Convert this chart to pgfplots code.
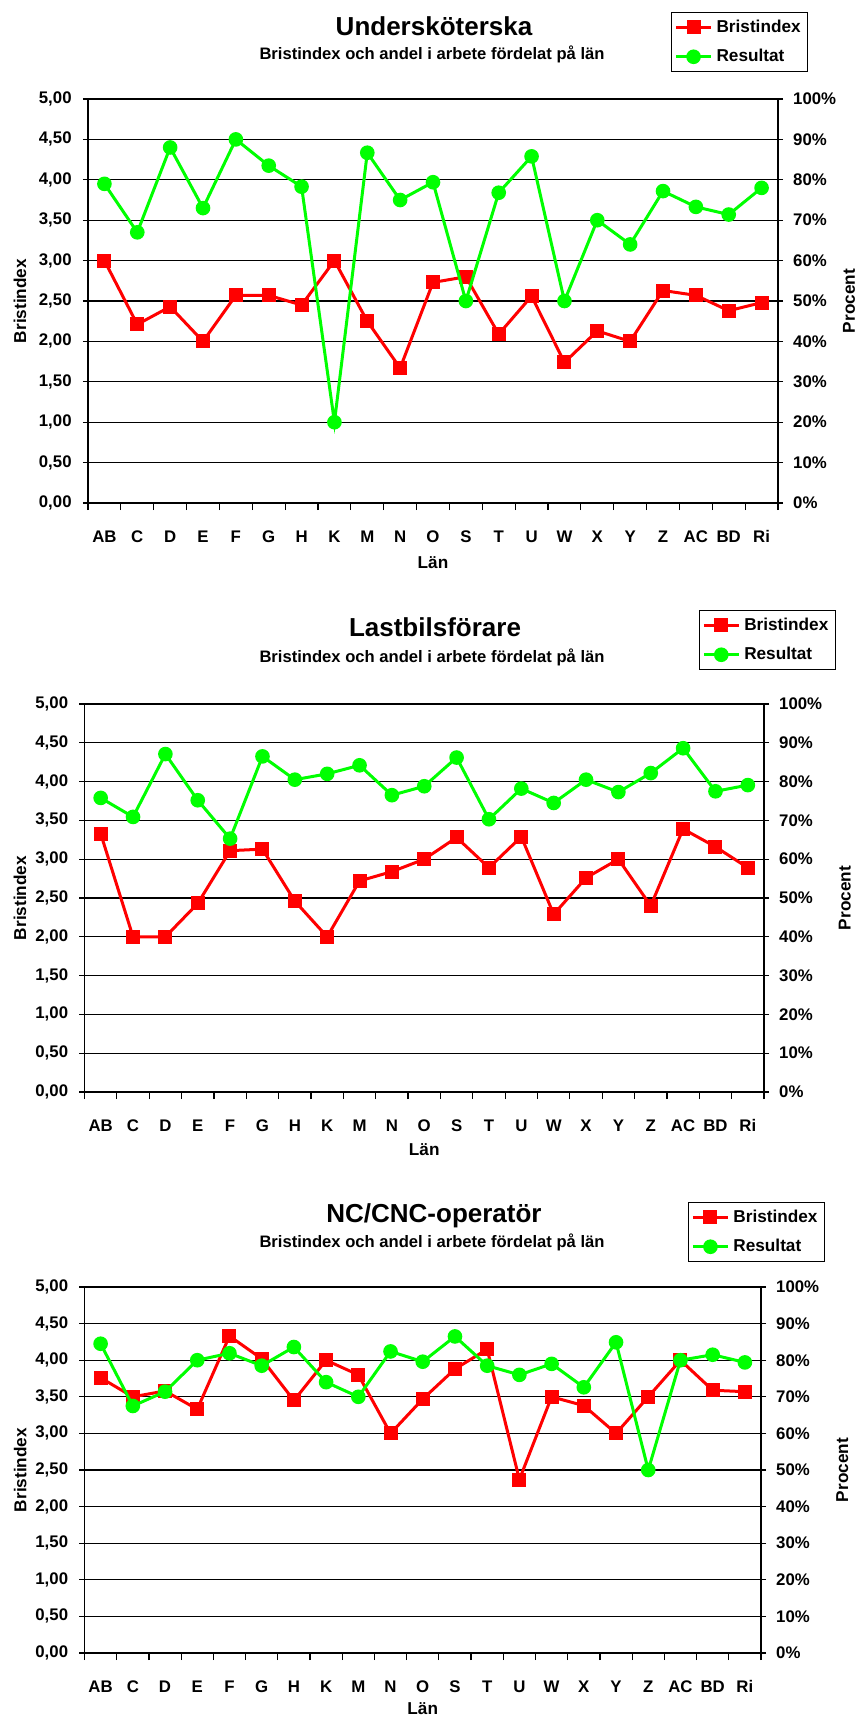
\documentclass[border=0pt]{standalone}
\usepackage{fontspec}
\setmainfont{Liberation Sans}
\usepackage{pgfplots}
\pgfplotsset{compat=1.18}
\usepackage{pgfplotstable}

\definecolor{bired}{RGB}{255,0,0}
\definecolor{resgreen}{RGB}{0,255,0}

\newcommand\titfont{\fontsize{13bp}{15bp}\selectfont\bfseries}
\newcommand\subfont{\fontsize{8.3bp}{10bp}\selectfont\bfseries}
\newcommand\labfont{\fontsize{8.6bp}{10bp}\selectfont\bfseries}
\newcommand\tickfont{\fontsize{8.4bp}{10bp}\selectfont\bfseries}

% idx: 0=AB ... 20=Ri ; bi = Bristindex, res = Resultat (%)
\pgfplotstableread{
idx bi res
0 3.00 79
1 2.21 67
2 2.43 88
3 2.00 73
4 2.57 90
5 2.57 83.5
6 2.45 78.3
7 3.00 20
8 2.25 86.7
9 1.67 75
10 2.73 79.4
11 2.80 50
12 2.09 76.8
13 2.56 85.8
14 1.74 50
15 2.13 70
16 2.00 64
17 2.63 77.2
18 2.57 73.3
19 2.38 71.4
20 2.48 78
}\underskoterska

\pgfplotstableread{
idx bi res
0 3.33 75.8
1 2.00 70.9
2 2.00 87.1
3 2.43 75.2
4 3.11 65.3
5 3.13 86.5
6 2.46 80.5
7 2.00 82
8 2.72 84.2
9 2.84 76.5
10 3.00 78.8
11 3.28 86.2
12 2.89 70.3
13 3.29 78.2
14 2.29 74.5
15 2.76 80.5
16 3.00 77.3
17 2.40 82.2
18 3.39 88.6
19 3.16 77.5
20 2.89 79.1
}\lastbil

\pgfplotstableread{
idx bi res
0 3.76 84.5
1 3.50 67.5
2 3.58 71.4
3 3.33 80
4 4.33 81.9
5 4.02 78.5
6 3.45 83.6
7 4.00 74
8 3.80 70
9 3.00 82.4
10 3.47 79.6
11 3.88 86.5
12 4.15 78.5
13 2.37 76
14 3.50 79
15 3.38 72.6
16 3.00 84.9
17 3.50 50
18 4.00 80
19 3.59 81.5
20 3.57 79.4
}\cncop

\pgfplotsset{
  lanaxis/.style={
    scale only axis, xmin=-0.5, xmax=20.5, ymin=0,
    tick align=outside, major tick length=2.6bp, minor tick length=3.5bp,
    every tick/.style={black, line width=0.6bp},
    axis line style={black, line width=0.6bp},
    tick label style={font=\tickfont},
    label style={font=\labfont},
    /pgf/number format/assume math mode=true,
  },
  leftaxis/.style={lanaxis,
    axis x line*=bottom, axis y line*=left,
    ymax=5, ytick={0,0.5,...,5},
    yticklabels={{0,00},{0,50},{1,00},{1,50},{2,00},{2,50},{3,00},{3,50},{4,00},{4,50},{5,00}},
    ymajorgrids, grid style={black, line width=0.6bp},
    xtick={0,...,20},
    xticklabels={AB,C,D,E,F,G,H,K,M,N,O,S,T,U,W,X,Y,Z,AC,BD,Ri},
    minor xtick={-0.5,0.5,...,20.5},
    xtick style={/pgfplots/major tick length=0pt},
    xticklabel style={anchor=base, yshift=-17bp},
    yticklabel style={anchor=east, inner sep=0pt, xshift=-5.4bp},
    ylabel={Bristindex}, xlabel={Län},
  },
  rightaxis/.style={lanaxis,
    axis x line=none, axis y line*=right, ymax=100,
    ytick={0,10,...,100},
    yticklabels={0\%,10\%,20\%,30\%,40\%,50\%,60\%,70\%,80\%,90\%,100\%},
    yticklabel style={anchor=west, inner sep=0pt, xshift=4.8bp},
    ylabel={Procent},
    legend style={anchor=north west, draw=black, line width=0.5bp, fill=white,
      inner xsep=1.5bp, inner ysep=1.5bp, row sep=3bp, font=\labfont,
      cells={anchor=west}},
    legend image code/.code={\draw[#1, mark repeat=2, mark phase=2]
      plot coordinates {(0bp,0bp) (8.75bp,0bp) (17.5bp,0bp)};},
  },
  bistyle/.style={bired, line width=1.5bp, mark=square*, mark size=2.75bp,
    mark options={solid, fill=bired, draw=bired}},
  resstyle/.style={resgreen, line width=1.5bp, mark=*, mark size=2.9bp,
    mark options={solid, fill=resgreen, draw=resgreen}},
}

\begin{document}
\begin{tikzpicture}
\path[use as bounding box] (0,0) rectangle (430.5bp,-857.5bp);

% ---------- Undersköterska ----------
\node[anchor=base, font=\titfont] at (217bp,-17.5bp) {Undersköterska};
\node[anchor=base, font=\subfont] at (216bp,-29.5bp) {Bristindex och andel i arbete fördelat på län};
\begin{axis}[leftaxis, at={(44bp,-251.5bp)}, anchor=south west,
  width=345bp, height=202bp,
  ylabel style={at={(axis description cs:-0.0986,0.5)}, anchor=center},
  xlabel style={at={(axis description cs:0.5,0)}, anchor=base, yshift=-32.5bp}]
  \addplot[bistyle] table[x=idx, y=bi] {\underskoterska};
\end{axis}
\begin{axis}[rightaxis, at={(44bp,-251.5bp)}, anchor=south west,
  width=345bp, height=202bp,
  ylabel style={at={(axis description cs:1.103,0.5)}, anchor=center},
  legend style={at={(axis description cs:0.845,1.215)}}]
  \addlegendimage{bistyle}\addlegendentry{Bristindex}
  \addplot[resstyle] table[x=idx, y=res] {\underskoterska};
  \addlegendentry{Resultat}
\end{axis}

% ---------- Lastbilsförare ----------
\node[anchor=base, font=\titfont] at (217.5bp,-318.3bp) {Lastbilsförare};
\node[anchor=base, font=\subfont] at (216bp,-331.3bp) {Bristindex och andel i arbete fördelat på län};
\begin{axis}[leftaxis, at={(42.25bp,-546bp)}, anchor=south west,
  width=339.75bp, height=194bp,
  ylabel style={at={(axis description cs:-0.095,0.5)}, anchor=center},
  xlabel style={at={(axis description cs:0.5,0)}, anchor=base, yshift=-31.5bp}]
  \addplot[bistyle] table[x=idx, y=bi] {\lastbil};
\end{axis}
\begin{axis}[rightaxis, at={(42.25bp,-546bp)}, anchor=south west,
  width=339.75bp, height=194bp,
  ylabel style={at={(axis description cs:1.119,0.5)}, anchor=center},
  legend style={at={(axis description cs:0.904,1.242)}}]
  \addlegendimage{bistyle}\addlegendentry{Bristindex}
  \addplot[resstyle] table[x=idx, y=res] {\lastbil};
  \addlegendentry{Resultat}
\end{axis}

% ---------- NC/CNC-operatör ----------
\node[anchor=base, font=\titfont] at (217bp,-611.3bp) {NC/CNC-operatör};
\node[anchor=base, font=\subfont] at (216bp,-623.7bp) {Bristindex och andel i arbete fördelat på län};
\begin{axis}[leftaxis, at={(42.25bp,-826.5bp)}, anchor=south west,
  width=338.25bp, height=183bp,
  ylabel style={at={(axis description cs:-0.095,0.5)}, anchor=center},
  xlabel style={at={(axis description cs:0.5,0)}, anchor=base, yshift=-30.5bp}]
  \addplot[bistyle] table[x=idx, y=bi] {\cncop};
\end{axis}
\begin{axis}[rightaxis, at={(42.25bp,-826.5bp)}, anchor=south west,
  width=338.25bp, height=183bp,
  ylabel style={at={(axis description cs:1.12,0.5)}, anchor=center},
  legend style={at={(axis description cs:0.892,1.232)}}]
  \addlegendimage{bistyle}\addlegendentry{Bristindex}
  \addplot[resstyle] table[x=idx, y=res] {\cncop};
  \addlegendentry{Resultat}
\end{axis}
\end{tikzpicture}
\end{document}
